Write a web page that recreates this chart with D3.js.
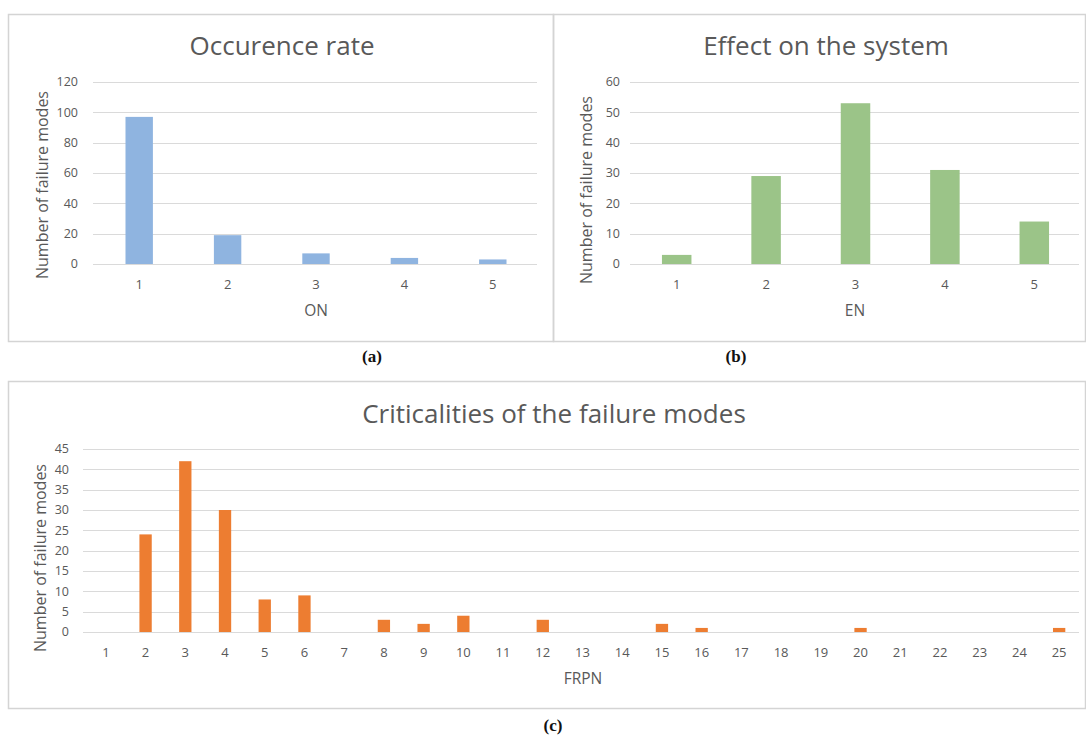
<!DOCTYPE html>
<html>
<head>
<meta charset="utf-8">
<script src="https://cdn.jsdelivr.net/npm/d3@7"></script>
<style>
  body { margin: 0; background: white; }
  text { font-family: "Open Sans", sans-serif; }
</style>
</head>
<body>
<div id="chart"></div>
<script>
// data
var onCats = ["1", "2", "3", "4", "5"];
var onCounts = [97, 19, 7, 4, 3];
var onTicks = [0, 20, 40, 60, 80, 100, 120];

var enCats = ["1", "2", "3", "4", "5"];
var enCounts = [3, 29, 53, 31, 14];
var enTicks = [0, 10, 20, 30, 40, 50, 60];

var frpnCats = ["1","2","3","4","5","6","7","8","9","10","11","12","13","14","15","16","17","18","19","20","21","22","23","24","25"];
var frpnCounts = [0, 24, 42, 30, 8, 9, 0, 3, 2, 4, 0, 3, 0, 0, 2, 1, 0, 0, 0, 1, 0, 0, 0, 0, 1];
var frpnTicks = [0, 5, 10, 15, 20, 25, 30, 35, 40, 45];

var svg = d3.select("#chart")
  .append("svg")
    .attr("width", 1086)
    .attr("height", 736)
    .style("background", "white");

// draw one excel-like panel
function drawPanel(p) {
  var g = svg.append("g");

  // frame around the panel
  g.append("rect")
    .attr("x", p.box[0] + 0.5).attr("y", p.box[1] + 0.5)
    .attr("width", p.box[2]).attr("height", p.box[3])
    .attr("fill", "none")
    .attr("stroke", "#d4d4d4")
    .attr("stroke-width", 1.5);

  var x = d3.scaleBand()
    .domain(p.cats)
    .range([p.x0, p.x1])
    .paddingInner(p.pad)
    .paddingOuter(p.pad / 2);

  var y = d3.scaleLinear()
    .domain([0, d3.max(p.ticks)])
    .range([p.y0, p.y1]);

  // gridlines
  g.append("g")
    .selectAll("line")
    .data(p.ticks)
    .enter()
    .append("line")
      .attr("x1", p.gridX0).attr("x2", p.x1)
      .attr("y1", function(d){ return Math.round(y(d)) + 0.5 })
      .attr("y2", function(d){ return Math.round(y(d)) + 0.5 })
      .attr("stroke", "#dadada")
      .attr("stroke-width", 1);

  // y tick labels
  g.append("g")
    .selectAll("text")
    .data(p.ticks)
    .enter()
    .append("text")
      .attr("x", p.tickX)
      .attr("y", function(d){ return y(d) })
      .attr("dy", "0.35em")
      .attr("text-anchor", "end")
      .attr("fill", "#595959")
      .style("font-size", "12.5px")
      .text(function(d){ return d });

  // bars
  g.append("g")
    .selectAll("rect")
    .data(p.values)
    .enter()
    .append("rect")
      .attr("x", function(d, i){ return x(p.cats[i]) })
      .attr("width", x.bandwidth())
      .attr("y", function(d){ return y(d) })
      .attr("height", function(d){ return y(0) - y(d) })
      .attr("fill", p.color);

  // x tick labels
  g.append("g")
    .selectAll("text")
    .data(p.cats)
    .enter()
    .append("text")
      .attr("x", function(d){ return x(d) + x.bandwidth() / 2 })
      .attr("y", p.y0 + 25)
      .attr("text-anchor", "middle")
      .attr("fill", "#595959")
      .style("font-size", "13px")
      .text(function(d){ return d });

  // x axis title
  g.append("text")
    .attr("x", p.xTitleX)
    .attr("y", p.y0 + 52)
    .attr("text-anchor", "middle")
    .attr("fill", "#595959")
    .style("font-size", "15.5px")
    .text(p.xTitle);

  // y axis title
  g.append("text")
    .attr("transform", "translate(" + p.yTitleX + "," + p.yTitleY + ") rotate(-90)")
    .attr("text-anchor", "middle")
    .attr("fill", "#595959")
    .style("font-size", "16px")
    .text("Number of failure modes");

  // chart title
  g.append("text")
    .attr("x", p.titleX)
    .attr("y", p.titleY)
    .attr("text-anchor", "middle")
    .attr("fill", "#595959")
    .style("font-size", "26px")
    .text(p.title);

  // panel letter below
  g.append("text")
    .attr("x", p.letterX)
    .attr("y", p.letterY)
    .attr("text-anchor", "middle")
    .attr("fill", "#111")
    .style("font-family", "'Liberation Serif', 'Times New Roman', serif")
    .style("font-weight", "bold")
    .style("font-size", "17px")
    .text(p.letter);
}

drawPanel({
  box: [8, 14, 545, 327], cats: onCats, values: onCounts, ticks: onTicks,
  x0: 95, x1: 537, gridX0: 93, y0: 264, y1: 82, pad: 0.69, color: "#8fb4e0",
  tickX: 78,
  title: "Occurence rate", titleX: 282, titleY: 55,
  xTitle: "ON", xTitleX: 316, yTitleX: 48, yTitleY: 185,
  letter: "(a)", letterX: 372, letterY: 362
});

drawPanel({
  box: [553, 14, 532, 327], cats: enCats, values: enCounts, ticks: enTicks,
  x0: 632, x1: 1079, gridX0: 630, y0: 264, y1: 82, pad: 0.67, color: "#9bc488",
  tickX: 620,
  title: "Effect on the system", titleX: 826, titleY: 55,
  xTitle: "EN", xTitleX: 855, yTitleX: 592, yTitleY: 190,
  letter: "(b)", letterX: 736, letterY: 362
});

drawPanel({
  box: [8, 381, 1077, 327], cats: frpnCats, values: frpnCounts, ticks: frpnTicks,
  x0: 86, x1: 1079, gridX0: 83, y0: 632, y1: 449, pad: 0.69, color: "#ed7d31",
  tickX: 69,
  title: "Criticalities of the failure modes", titleX: 554, titleY: 423,
  xTitle: "FRPN", xTitleX: 583, yTitleX: 46, yTitleY: 558,
  letter: "(c)", letterX: 553, letterY: 731
});
</script>
</body>
</html>
